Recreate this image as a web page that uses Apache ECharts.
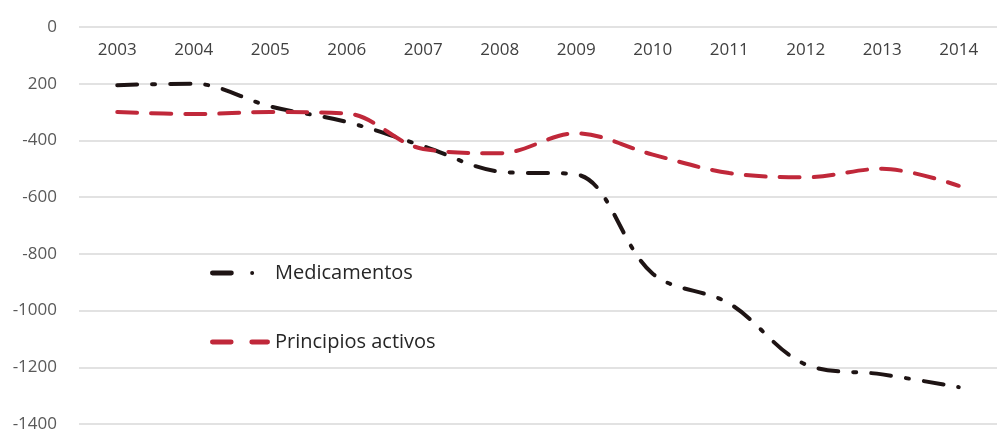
<!DOCTYPE html>
<html>
<head>
<meta charset="utf-8">
<script src="https://cdn.jsdelivr.net/npm/echarts@6/dist/echarts.min.js"></script>
<style>
  html, body { margin: 0; padding: 0; background: #fff; }
  #chart { width: 997px; height: 433px; }
</style>
</head>
<body>
<div id="chart"></div>
<script>
const years = ["2003", "2004", "2005", "2006", "2007", "2008", "2009", "2010", "2011", "2012", "2013", "2014"];
const medicamentos = [-205, -200, -280, -335, -420, -510, -520, -870, -975, -1190, -1225, -1270];
const principiosActivos = [-300, -307, -300, -305, -430, -445, -375, -450, -515, -530, -500, -560];

const chart = echarts.init(document.getElementById("chart"));
const font = "Open Sans";

// legend icons: dash + dot, dash + dash (60 x 5 box)
const iconDashDot = "path://M2,0H21A2,2,0,0,1,21,5H2A2,2,0,0,1,2,0Z M42,0.5A2,2,0,1,1,42,4.5A2,2,0,1,1,42,0.5Z M60,2.5L60,2.5Z";
const iconDash = "path://M2,0H21A2,2,0,0,1,21,5H2A2,2,0,0,1,2,0Z M42,0H58A2,2,0,0,1,58,5H42A2,2,0,0,1,42,0Z";

chart.setOption({
  animation: false,
  grid: { left: 79, right: -10, top: 27, bottom: 9 },
  legend: {
    orient: "vertical",
    left: 205,
    top: 258,
    itemGap: 49,
    itemWidth: 60,
    itemHeight: 5,
    textStyle: { fontFamily: font, fontSize: 20, color: "#262626" },
    data: [
      { name: "Medicamentos", icon: iconDashDot },
      { name: "Principios activos", icon: iconDash },
    ],
  },
  xAxis: {
    type: "category",
    data: years,
    position: "top",
    boundaryGap: true,
    axisLine: { show: false },
    axisTick: { show: false },
    axisLabel: {
      inside: true,
      margin: 15,
      fontFamily: font,
      fontSize: 17,
      color: "#404040",
    },
  },
  yAxis: {
    type: "value",
    min: -1400,
    max: 0,
    interval: 200,
    axisLine: { show: false },
    axisTick: { show: false },
    axisLabel: {
      margin: 22,
      fontFamily: font,
      fontSize: 17,
      color: "#595959",
      formatter: (v) => (v === -200 ? "200" : String(v)),
    },
    splitLine: { lineStyle: { color: "#d9d9d9", width: 1.5 } },
  },
  series: [
    {
      name: "Medicamentos",
      type: "line",
      data: medicamentos,
      smooth: 0.35,
      showSymbol: false,
      symbol: "none",
      color: "#1e1414",
      lineStyle: { width: 4, color: "#1e1414", type: [20, 15, 3, 15], cap: "round" },
    },
    {
      name: "Principios activos",
      type: "line",
      data: principiosActivos,
      smooth: 0.35,
      showSymbol: false,
      symbol: "none",
      color: "#c0283a",
      lineStyle: { width: 4, color: "#c0283a", type: [20, 14], cap: "round" },
    },
  ],
});
</script>
</body>
</html>
